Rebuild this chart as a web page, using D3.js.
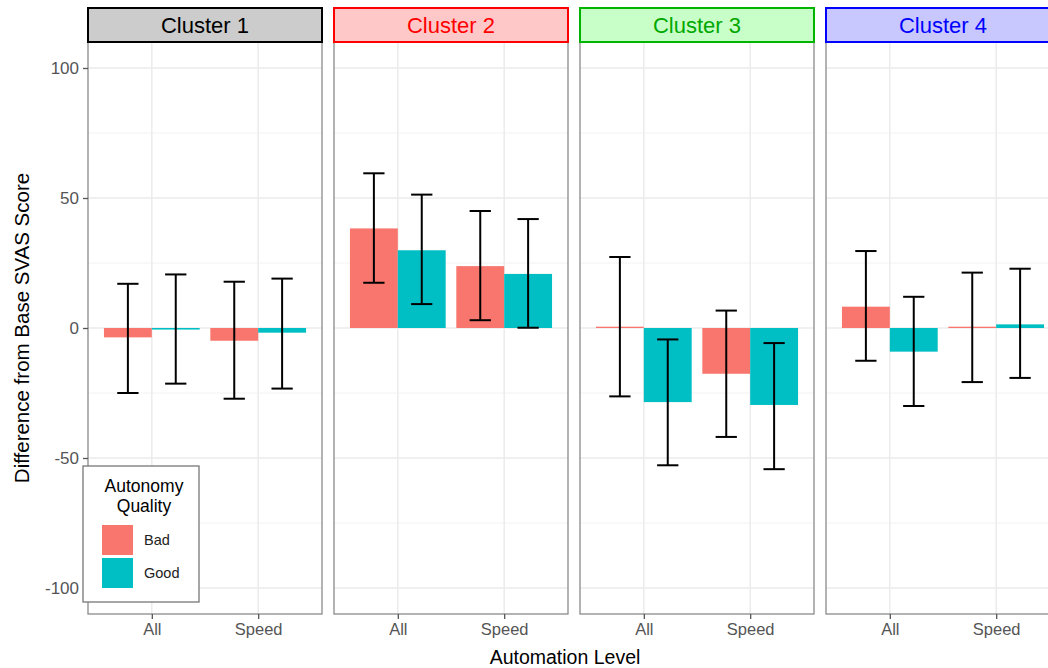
<!DOCTYPE html>
<html>
<head>
<meta charset="utf-8">
<script src="https://cdn.jsdelivr.net/npm/d3@7"></script>
<style>
  html, body { margin: 0; padding: 0; background: #fff; }
  svg { display: block; font-family: "Liberation Sans", Arial, sans-serif; }
</style>
</head>
<body>
<svg id="chart" width="1048" height="668"></svg>
<script>
// ---- data ----
const clusters = ["Cluster 1", "Cluster 2", "Cluster 3", "Cluster 4"];
const levels = ["All", "Speed"];
const qualities = ["Bad", "Good"];
// values listed cluster by cluster: [C1 All, C1 Speed, C2 All, C2 Speed, ...]
const badMean  = [-3.6, -4.9, 38.3, 23.8, 0.5, -17.6, 8.2, 0.5];
const badLow   = [-25.0, -27.2, 17.4, 3.0, -26.3, -41.9, -12.6, -20.8];
const badHigh  = [17.0, 17.8, 59.5, 45.0, 27.3, 6.7, 29.6, 21.3];
const goodMean = [-0.6, -1.8, 29.9, 20.8, -28.5, -29.6, -9.1, 1.4];
const goodLow  = [-21.4, -23.3, 9.2, 0.1, -52.8, -54.3, -30.0, -19.2];
const goodHigh = [20.6, 19.0, 51.3, 41.9, -4.4, -5.8, 12.0, 22.8];
const yTicks = [-100, -50, 0, 50, 100];
const yMinor = [-75, -25, 25, 75];
const yTitle = "Difference from Base SVAS Score";
const xTitle = "Automation Level";
const legendTitle = ["Autonomy", "Quality"];

// ---- styles ----
const qColor = { Bad: "#F8766D", Good: "#00BFC4" };
const stripStyle = [
  { fill: "#CCCCCC", stroke: "#000000", text: "#000000" },
  { fill: "#FFC8C8", stroke: "#FF0000", text: "#FF0000" },
  { fill: "#C8FFC8", stroke: "#00B400", text: "#00A800" },
  { fill: "#C8C8FF", stroke: "#0000FF", text: "#0000FF" }
];

const rows = [];
clusters.forEach((c, ci) => {
  levels.forEach((l, li) => {
    const k = ci * 2 + li;
    rows.push({ cluster: c, level: l, quality: "Bad", mean: badMean[k], lo: badLow[k], hi: badHigh[k] });
    rows.push({ cluster: c, level: l, quality: "Good", mean: goodMean[k], lo: goodLow[k], hi: goodHigh[k] });
  });
});

const svg = d3.select("#chart");
const panelLeft0 = 88, panelW = 234, panelGap = 12;
const stripTop = 8, stripH = 34;
const panelTop = stripTop + stripH, panelBottom = 614;

const y = d3.scaleLinear().domain([-110, 110]).range([panelBottom, panelTop]);
const xPanel = d3.scaleBand().domain(clusters)
  .range([panelLeft0, panelLeft0 + clusters.length * panelW + (clusters.length - 1) * panelGap])
  .paddingInner(panelGap / (panelW + panelGap)).paddingOuter(0);

clusters.forEach((c, ci) => {
  const px = xPanel(c);
  const g = svg.append("g").attr("transform", `translate(${px},0)`);
  const x = d3.scalePoint().domain(levels).range([0, panelW]).padding(0.6);
  const step = x.step();
  const xq = d3.scaleBand().domain(qualities).range([-0.45 * step, 0.45 * step]);

  g.append("rect").attr("x", 0).attr("y", panelTop).attr("width", panelW)
    .attr("height", panelBottom - panelTop).attr("fill", "#fff");

  g.selectAll(".minor").data(yMinor).enter().append("line")
    .attr("x1", 0).attr("x2", panelW)
    .attr("y1", d => y(d)).attr("y2", d => y(d))
    .attr("stroke", "#F2F2F2").attr("stroke-width", 1);
  g.selectAll(".major").data(yTicks).enter().append("line")
    .attr("x1", 0).attr("x2", panelW)
    .attr("y1", d => y(d)).attr("y2", d => y(d))
    .attr("stroke", "#EBEBEB").attr("stroke-width", 1.5);
  g.selectAll(".vgrid").data(levels).enter().append("line")
    .attr("x1", d => x(d)).attr("x2", d => x(d))
    .attr("y1", panelTop).attr("y2", panelBottom)
    .attr("stroke", "#EBEBEB").attr("stroke-width", 1.5);

  const data = rows.filter(r => r.cluster === c);
  g.selectAll(".bar").data(data).enter().append("rect")
    .attr("x", d => x(d.level) + xq(d.quality))
    .attr("width", xq.bandwidth())
    .attr("y", d => y(Math.max(0, d.mean)))
    .attr("height", d => Math.abs(y(d.mean) - y(0)))
    .attr("fill", d => qColor[d.quality]);

  const capHalf = 0.1 * step;
  const eb = g.selectAll(".eb").data(data).enter().append("g")
    .attr("stroke", "#000").attr("stroke-width", 2).attr("fill", "none");
  eb.append("line")
    .attr("x1", d => x(d.level) + xq(d.quality) + xq.bandwidth() / 2)
    .attr("x2", d => x(d.level) + xq(d.quality) + xq.bandwidth() / 2)
    .attr("y1", d => y(d.lo)).attr("y2", d => y(d.hi));
  ["lo", "hi"].forEach(key => {
    eb.append("line")
      .attr("x1", d => x(d.level) + xq(d.quality) + xq.bandwidth() / 2 - capHalf)
      .attr("x2", d => x(d.level) + xq(d.quality) + xq.bandwidth() / 2 + capHalf)
      .attr("y1", d => y(d[key])).attr("y2", d => y(d[key]));
  });

  g.append("rect").attr("x", 0).attr("y", panelTop).attr("width", panelW)
    .attr("height", panelBottom - panelTop).attr("fill", "none")
    .attr("stroke", "#8A8A8A").attr("stroke-width", 1.3);

  const st = stripStyle[ci];
  g.append("rect").attr("x", 0).attr("y", stripTop).attr("width", panelW).attr("height", stripH)
    .attr("fill", st.fill).attr("stroke", st.stroke).attr("stroke-width", 2);
  g.append("text").attr("x", panelW / 2).attr("y", stripTop + stripH / 2)
    .attr("dy", "0.36em").attr("text-anchor", "middle")
    .attr("font-size", 22).attr("fill", st.text).text(c);

  const xa = g.append("g").attr("transform", `translate(0,${panelBottom})`)
    .call(d3.axisBottom(x).tickSize(5).tickPadding(4));
  xa.select(".domain").remove();
  xa.selectAll(".tick line").attr("stroke", "#555").attr("stroke-width", 1.3);
  xa.selectAll(".tick text").attr("font-size", 16.5).attr("fill", "#555")
    .attr("font-family", "Liberation Sans, Arial, sans-serif");
});

const ya = svg.append("g").attr("transform", `translate(${panelLeft0},0)`)
  .call(d3.axisLeft(y).tickValues(yTicks).tickFormat(d => String(d)).tickSize(5).tickPadding(4));
ya.select(".domain").remove();
ya.selectAll(".tick line").attr("stroke", "#555").attr("stroke-width", 1.3);
ya.selectAll(".tick text").attr("font-size", 17).attr("fill", "#555")
  .attr("font-family", "Liberation Sans, Arial, sans-serif");

svg.append("text").attr("transform", `translate(22,${(panelTop + panelBottom) / 2}) rotate(-90)`)
  .attr("text-anchor", "middle").attr("dy", "0.36em").attr("font-size", 20.5).attr("fill", "#000")
  .text(yTitle);
svg.append("text").attr("x", 565).attr("y", 657).attr("dy", "0.36em")
  .attr("text-anchor", "middle").attr("font-size", 19.5).attr("fill", "#000").text(xTitle);

const lg = svg.append("g").attr("transform", "translate(83,466)");
lg.append("rect").attr("x", 0).attr("y", 0).attr("width", 116).attr("height", 136)
  .attr("fill", "#fff").attr("stroke", "#777").attr("stroke-width", 1.3);
lg.selectAll(".lt").data(legendTitle).enter().append("text")
  .attr("x", 61).attr("y", (d, i) => 20 + i * 20).attr("dy", "0.36em")
  .attr("text-anchor", "middle").attr("font-size", 17.5).attr("fill", "#000").text(d => d);
const items = lg.selectAll(".li").data(qualities).enter().append("g")
  .attr("transform", (d, i) => `translate(19,${59 + i * 33})`);
items.append("rect").attr("width", 31).attr("height", 30).attr("fill", d => qColor[d]);
items.append("text").attr("x", 42).attr("y", 15).attr("dy", "0.36em")
  .attr("font-size", 14.5).attr("fill", "#222").text(d => d);
</script>
</body>
</html>
